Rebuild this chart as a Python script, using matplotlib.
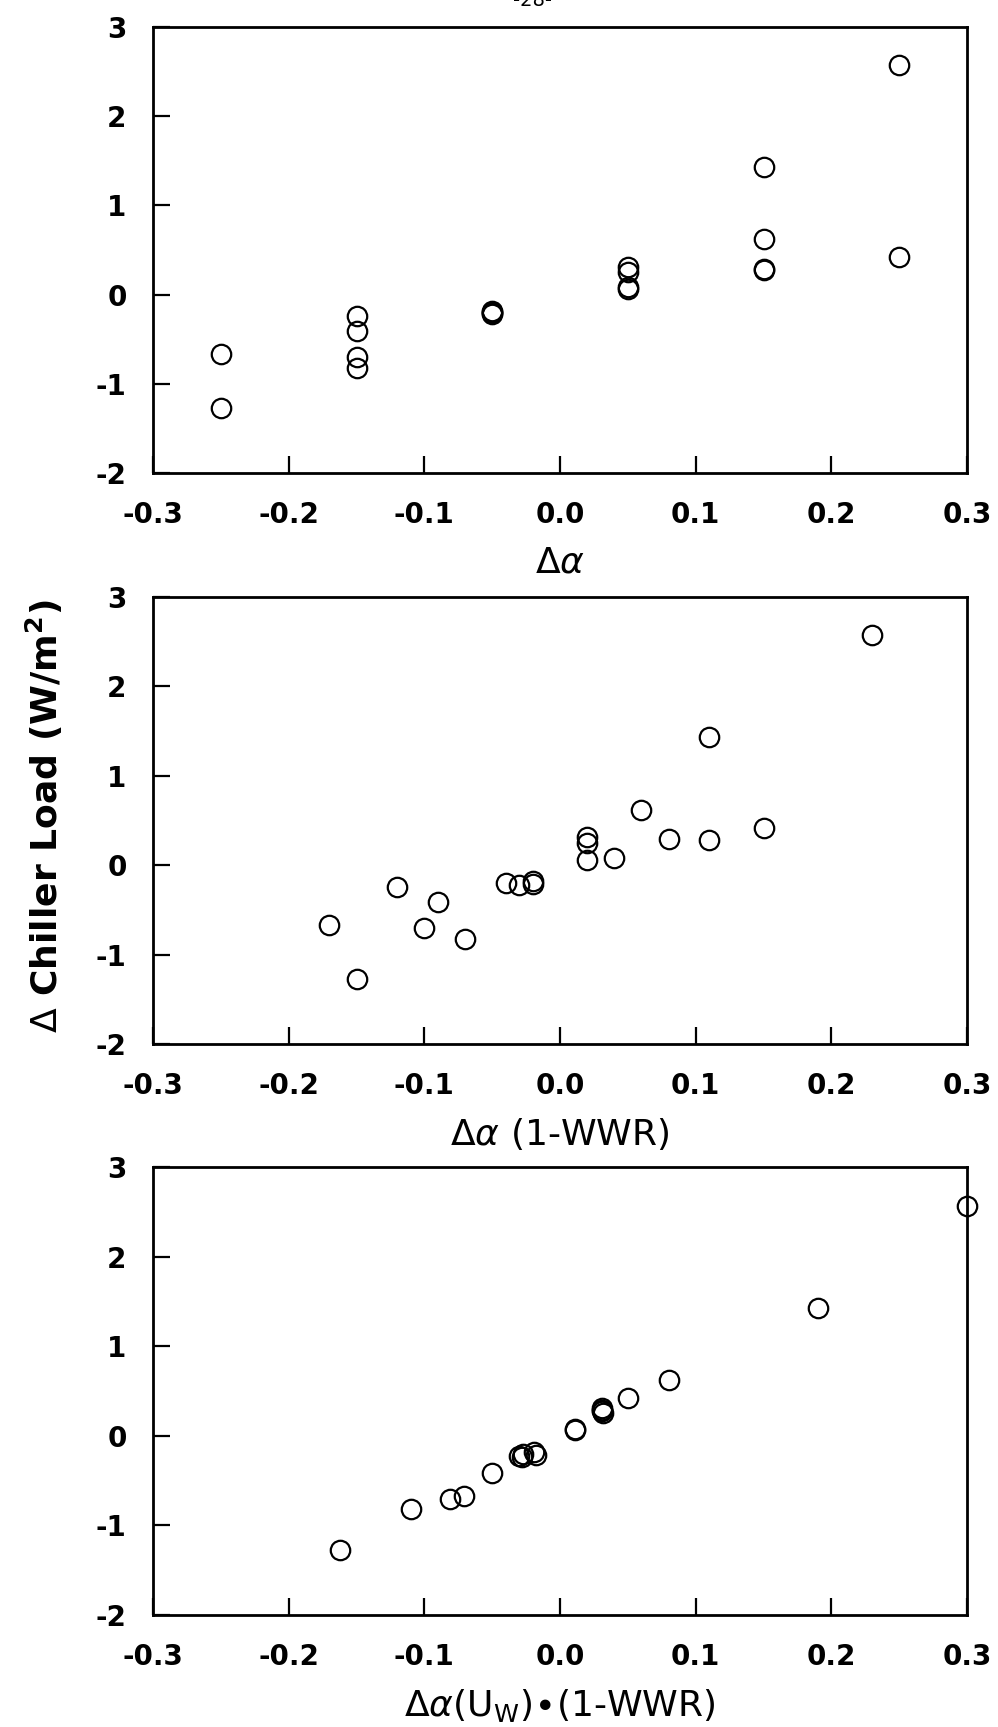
import matplotlib
matplotlib.use("Agg")
import matplotlib.pyplot as plt

plt.rcParams['font.family'] = ['DejaVu Sans']
plt.rcParams['mathtext.fontset'] = 'dejavusans'

# chiller load change (W/m2), one value per run, shared by all three panels
load = [2.57, 1.43, 0.62, 0.42, 0.29, 0.28, 0.31, 0.25, 0.06, 0.08,
        -0.20, -0.22, -0.18, -0.21, -0.24, -0.41, -0.70, -0.82, -0.67, -1.27]

# abscissa of each panel
d_alpha = [0.25, 0.15, 0.15, 0.25, 0.15, 0.15, 0.05, 0.05, 0.05, 0.05,
           -0.05, -0.05, -0.05, -0.05, -0.15, -0.15, -0.15, -0.15, -0.25, -0.25]
d_alpha_wwr = [0.23, 0.11, 0.06, 0.15, 0.08, 0.11, 0.02, 0.02, 0.02, 0.04,
               -0.04, -0.03, -0.02, -0.02, -0.12, -0.09, -0.10, -0.07, -0.17, -0.15]
d_alpha_uw_wwr = [0.30, 0.19, 0.08, 0.05, 0.031, 0.031, 0.031, 0.032, 0.011, 0.011,
                  -0.027, -0.03, -0.019, -0.018, -0.028, -0.05, -0.081, -0.11, -0.071, -0.162]

x_ticks = [-0.3, -0.2, -0.1, 0.0, 0.1, 0.2, 0.3]
x_labels = ['-0.3', '-0.2', '-0.1', '0.0', '0.1', '0.2', '0.3']
y_ticks = [-2, -1, 0, 1, 2, 3]
y_labels = ['-2', '-1', '0', '1', '2', '3']

panels = [
    (d_alpha, r'$\Delta\alpha$'),
    (d_alpha_wwr, r'$\Delta\alpha$ (1-WWR)'),
    (d_alpha_uw_wwr, r'$\Delta\alpha$(U$_\mathregular{W}$)$\bullet$(1-WWR)'),
]

W, H = 998, 1727
fig = plt.figure(figsize=(W / 100, H / 100), dpi=100)

# axes boxes in pixels: left, top, right, bottom
boxes = [(153, 27, 967, 473), (153, 597, 967, 1044), (153, 1167, 967, 1615)]

for (xs, xlab), (l, t, r, b) in zip(panels, boxes):
    ax = fig.add_axes([l / W, 1 - b / H, (r - l) / W, (b - t) / H])
    ax.plot(xs, load, 'o', ms=14, mfc='none', mec='black', mew=1.6, clip_on=False)
    ax.set_xlim(-0.3, 0.3)
    ax.set_ylim(-2, 3)
    ax.set_xticks(x_ticks)
    ax.set_xticklabels(x_labels, fontsize=20, fontweight='bold')
    ax.set_yticks(y_ticks)
    ax.set_yticklabels(y_labels, fontsize=20, fontweight='bold')
    ax.tick_params(direction='in', length=12, width=1.6)
    ax.tick_params(axis='x', pad=20)
    ax.tick_params(axis='y', pad=19)
    for sp in ax.spines.values():
        sp.set_linewidth(2.0)
    ax.set_xlabel(xlab, fontsize=26, labelpad=12)

fig.text(44 / W, 1 - 816 / H, r'$\Delta$ Chiller Load (W/m$^\mathregular{2}$)',
         rotation=90, ha='center', va='center', fontsize=26, fontweight='bold')
fig.text(533 / W, 1.0, '-28-', ha='center', va='center', fontsize=14)

fig.savefig('out.png', dpi=100, facecolor='white')
